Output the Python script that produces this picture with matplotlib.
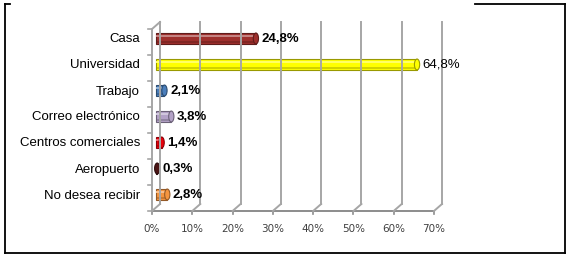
import matplotlib
matplotlib.use("Agg")
import matplotlib.pyplot as plt
from matplotlib.patches import Rectangle, Ellipse
from matplotlib.transforms import offset_copy
import matplotlib.colors as mcolors

# datos
categorias = ["Casa", "Universidad", "Trabajo", "Correo electrónico",
              "Centros comerciales", "Aeropuerto", "No desea recibir"]
porcentajes = [24.8, 64.8, 2.1, 3.8, 1.4, 0.3, 2.8]
etiquetas = ["24,8%", "64,8%", "2,1%", "3,8%", "1,4%", "0,3%", "2,8%"]
negrita = [True, False, True, True, True, True, True]
colores = ["#9E2F2C", "#FFFF00", "#4A7EBB", "#B3A2C7", "#E8000B", "#4B1414", "#F5953F"]
ticks_x = [0, 10, 20, 30, 40, 50, 60, 70]
ticks_txt = ["0%", "10%", "20%", "30%", "40%", "50%", "60%", "70%"]

W, H = 570, 257
fig = plt.figure(figsize=(W / 100, H / 100), dpi=100)

def fx(x):
    return x / W

def fy(y):
    return 1 - y / H

# marco exterior (borde de tabla)
marco = dict(color="black", lw=1.3, transform=fig.transFigure)
fig.add_artist(plt.Line2D([fx(5), fx(5)], [fy(4), fy(253)], **marco))
fig.add_artist(plt.Line2D([fx(5), fx(565)], [fy(253), fy(253)], **marco))
fig.add_artist(plt.Line2D([fx(565), fx(565)], [fy(4), fy(253)], **marco))
fig.add_artist(plt.Line2D([fx(5), fx(10)], [fy(4), fy(4)], **marco))
fig.add_artist(plt.Line2D([fx(475), fx(565)], [fy(4), fy(4)], **marco))

ax = fig.add_axes([fx(152), fy(211), fx(434) - fx(152), (211 - 29) / H])
ax.set_xlim(0, 70)
ax.set_ylim(len(categorias) - 0.5, -0.5)
ax.axis("off")

back = offset_copy(ax.transData, fig=fig, x=8, y=7, units="dots")
mid = offset_copy(ax.transData, fig=fig, x=4, y=3.5, units="dots")
lbl = offset_copy(ax.transData, fig=fig, x=0, y=2.5, units="dots")
inv = fig.transFigure.inverted()

y0, y1 = len(categorias) - 0.5, -0.5
gris = "#A6A6A6"

def diagonal(x, y):
    a = inv.transform(back.transform((x, y)))
    b = inv.transform(ax.transData.transform((x, y)))
    fig.add_artist(plt.Line2D([a[0], b[0]], [a[1], b[1]], color=gris, lw=1.4))

# lineas de division verticales (plano del fondo + diagonal al frente)
for t in ticks_x:
    ax.plot([t, t], [y0, y1], color=gris, lw=1.4, transform=back, clip_on=False)
    diagonal(t, y0)

# pared izquierda
ax.plot([0, 0], [y0, y1], color=gris, lw=1.4, clip_on=False)
diagonal(0, y1)
for k in range(len(categorias) + 1):
    ax.plot([-1.0, 0], [k - 0.5, k - 0.5], color=gris, lw=1.2, clip_on=False)

# piso frontal con marcas
ax.plot([0, 70], [y0, y0], color="#8C8C8C", lw=1.4, clip_on=False)
for t in ticks_x:
    ax.plot([t, t], [y0, y0 + 0.13], color="#8C8C8C", lw=1.2, clip_on=False)
    ax.text(t, y0 + 0.7, ticks_txt[t // 10], ha="center", va="center",
            fontsize=7.5, color="#404040", family="DejaVu Sans")

# barras cilindricas
h = 0.42
for i, (v, c) in enumerate(zip(porcentajes, colores)):
    base = mcolors.to_rgb(c)
    oscuro = tuple(x * 0.6 for x in base)
    claro = tuple(min(1, x + (1 - x) * 0.4) for x in base)
    ax.add_patch(Rectangle((0, i - h / 2), v, h, facecolor=c, edgecolor=oscuro,
                           lw=0.8, transform=mid, clip_on=False))
    if v > 1:
        ax.add_patch(Rectangle((0.1, i - h / 2 + 0.06), v - 0.2, h * 0.2,
                               facecolor=claro, edgecolor="none", transform=mid,
                               clip_on=False))
    ax.add_patch(Rectangle((0, i + h / 2 - 0.11), v, 0.09, facecolor=oscuro,
                           edgecolor="none", alpha=0.45, transform=mid, clip_on=False))
    ax.add_patch(Ellipse((v, i), 1.3, h, facecolor=c, edgecolor=oscuro,
                         lw=0.8, transform=mid, clip_on=False))
    ax.text(v + 1.4, i, etiquetas[i], ha="left", va="center", fontsize=9.5,
            fontweight="bold" if negrita[i] else "normal", color="black",
            family="Liberation Sans", transform=mid)
    ax.text(-3.0, i, categorias[i], ha="right", va="center", fontsize=9.5,
            color="black", family="Liberation Sans", transform=lbl)

fig.savefig("out.png", dpi=100)
